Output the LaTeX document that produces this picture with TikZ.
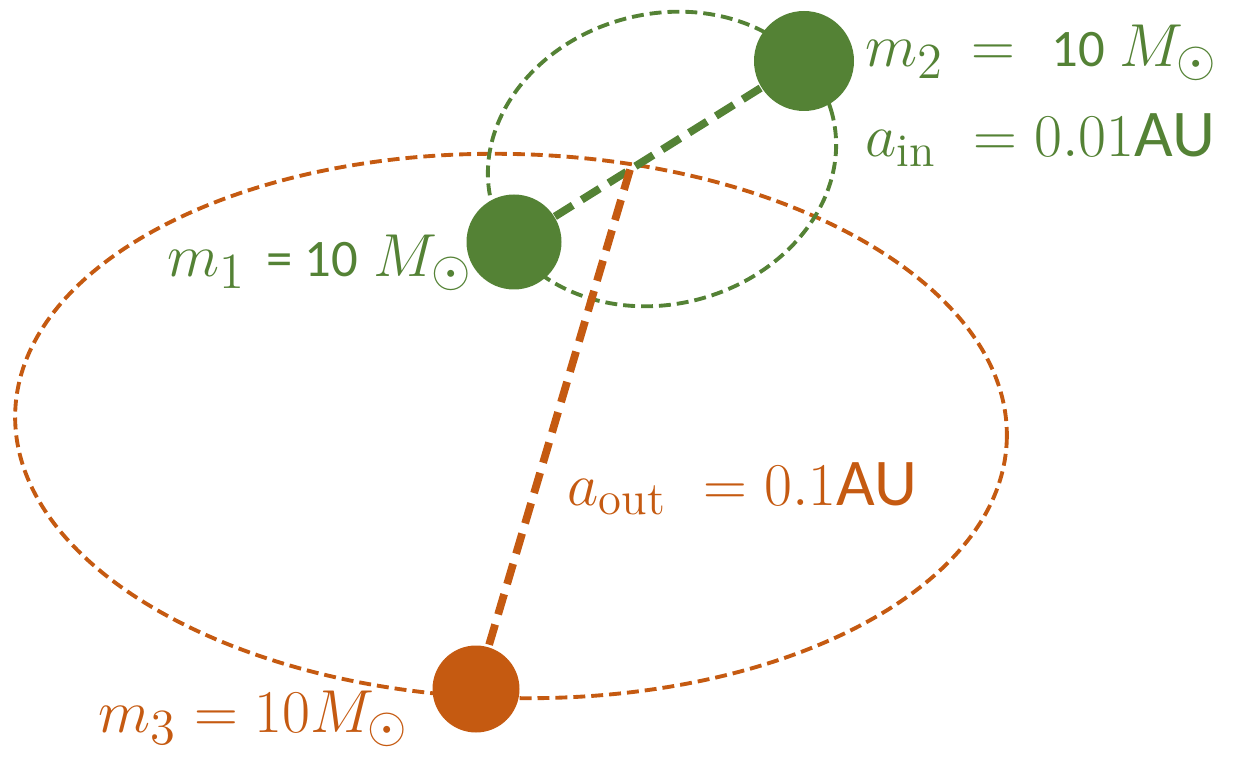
\documentclass[tikz,border=0pt]{standalone}
\usepackage{fontspec}
\usetikzlibrary{calc}
\newfontfamily\sanstxt{Carlito}
\definecolor{orbgreen}{HTML}{548235}
\definecolor{orborange}{HTML}{C55A11}
\tikzset{
  orbit/.style={line width=1.1pt, dash pattern=on 3.4pt off 1.7pt},
  sep/.style={line width=2.2pt, dash pattern=on 6pt off 3pt},
  body/.style={circle, inner sep=0pt},
  lbl/.style={inner sep=0pt, anchor=base west, font=\fontsize{19}{22}\selectfont}
}
\begin{document}
\begin{tikzpicture}
      \useasboundingbox (0,0) rectangle (12.38,7.56);
      % Outer orbit
      \draw[orbit, orborange, rotate around={-1.5:(5.11,3.30)}] (5.11,3.30) ellipse (4.96cm and 2.72cm);
      % Inner orbit
      \draw[orbit, orbgreen, rotate around={15:(6.62,5.97)}] (6.62,5.97) ellipse (1.76cm and 1.45cm);

      % Bodies
      \node[body, fill=orbgreen, minimum size=0.95cm] (m1) at (5.14,5.14) {};
      \node[body, fill=orbgreen, minimum size=1.0cm] (m2) at (8.04,6.95) {};
      \node[body, fill=orborange, minimum size=0.87cm] (m3) at (4.76,0.67) {};
      \coordinate (cm) at ($(m1)!0.4!(m2)$);

      % Separations
      \draw[sep, orbgreen] (m1) -- (m2);
      \draw[sep, orborange] (cm) -- (m3);

      % Labels
      \node[lbl, orbgreen] (lm2) at (8.65,6.89) {$m_2\,=$\hspace{10.5pt}{\sanstxt\fontsize{15}{18}\selectfont 10}\hspace{4pt}$M_\odot$};
      \node[lbl, orbgreen] (lain) at (8.65,5.99) {$a_{\mathrm{in}}\ = 0.01${\sanstxt AU}};
      \node[lbl, orbgreen] (lm1) at (1.67,4.79) {$m_1$ {\sanstxt\fontsize{15}{18}\selectfont = 10}\hspace{4.5pt}$M_\odot$};
      \node[lbl, orborange] (laout) at (5.67,2.51) {$a_{\mathrm{out}}\ = 0.1${\sanstxt AU}};
      \node[lbl, orborange] (lm3) at (0.98,0.23) {$m_3 = 10M_\odot$};
\end{tikzpicture}
\end{document}
